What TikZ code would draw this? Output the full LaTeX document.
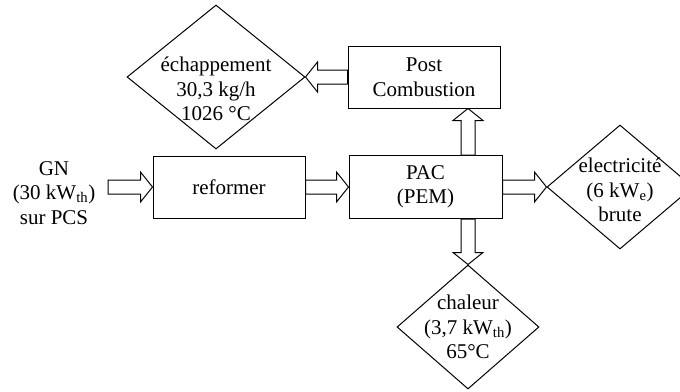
\documentclass[tikz,border=0pt]{standalone}
\usepackage{fontspec}
\setmainfont{Liberation Serif}
\usetikzlibrary{calc, shapes.geometric}

% hollow block arrow from #1 to #2
\newcommand{\flow}[2]{%
  \draw[flowline] ($#1!\shaftW!90:#2$) -- ($#2!\headL!#1!\shaftW!-90:#1$)
    -- ($#2!\headL!#1!\headW!-90:#1$) -- #2 -- ($#2!\headL!#1!\headW!90:#1$)
    -- ($#2!\headL!#1!\shaftW!90:#1$) -- ($#1!\shaftW!-90:#2$) -- cycle;}

\begin{document}
\begin{tikzpicture}[x=1pt, y=-1pt,
    every node/.style={font=\fontsize{21}{24.5}\selectfont, align=center},
    unit/.style={draw, line width=1pt, minimum width=152pt, minimum height=62pt, inner sep=0pt},
    outcome/.style={draw, diamond, line width=1pt, inner sep=0pt},
    flowline/.style={draw, line width=1pt, line join=miter, fill=white}]

    \def\shaftW{7pt}
    \def\headW{15pt}
    \def\headL{12pt}
    \useasboundingbox (0,0) rectangle (680,391);

    % Process blocks
    \node[unit] (ref) at (229,187) {reformer};
    \node[unit, minimum width=153pt, minimum height=63pt] (pac) at (425.5,187) {PAC\\(PEM)};
    \node[unit] (post) at (424,77) {Post\\Combustion};

    % Outputs
    \node[outcome, minimum width=178pt, minimum height=144pt,
          label={[yshift=-12pt]center:{échappement\\30,3 kg/h\\1026 °C}}] (ech) at (216,77) {};
    \node[outcome, minimum width=146pt, minimum height=124pt,
          label={[yshift=-3pt]center:{electricité\\(6 kW\textsubscript{e})\\brute}}] (elec) at (620,187) {};
    \node[outcome, minimum width=142pt, minimum height=124pt,
          label={center:{chaleur\\(3,7 kW\textsubscript{th})\\65°C}}] (chal) at (468,327) {};

    % Input
    \node (gn) at (54,193) {GN\\(30 kW\textsubscript{th})\\sur PCS};
    \coordinate (gnout) at (108,187);

    \coordinate (pacup) at (pac.north -| chal.north);
    \coordinate (postdn) at (post.south -| chal.north);
    \coordinate (pacdn) at (pac.south -| chal.north);

    % Flows
    \flow{(gnout)}{(ref.west)}
    \flow{(ref.east)}{(pac.west)}
    \flow{(pac.east)}{(elec.west)}
    \flow{(pacup)}{(postdn)}
    \flow{(pacdn)}{(chal.north)}
    \flow{(post.west)}{(ech.east)}

\end{tikzpicture}
\end{document}
